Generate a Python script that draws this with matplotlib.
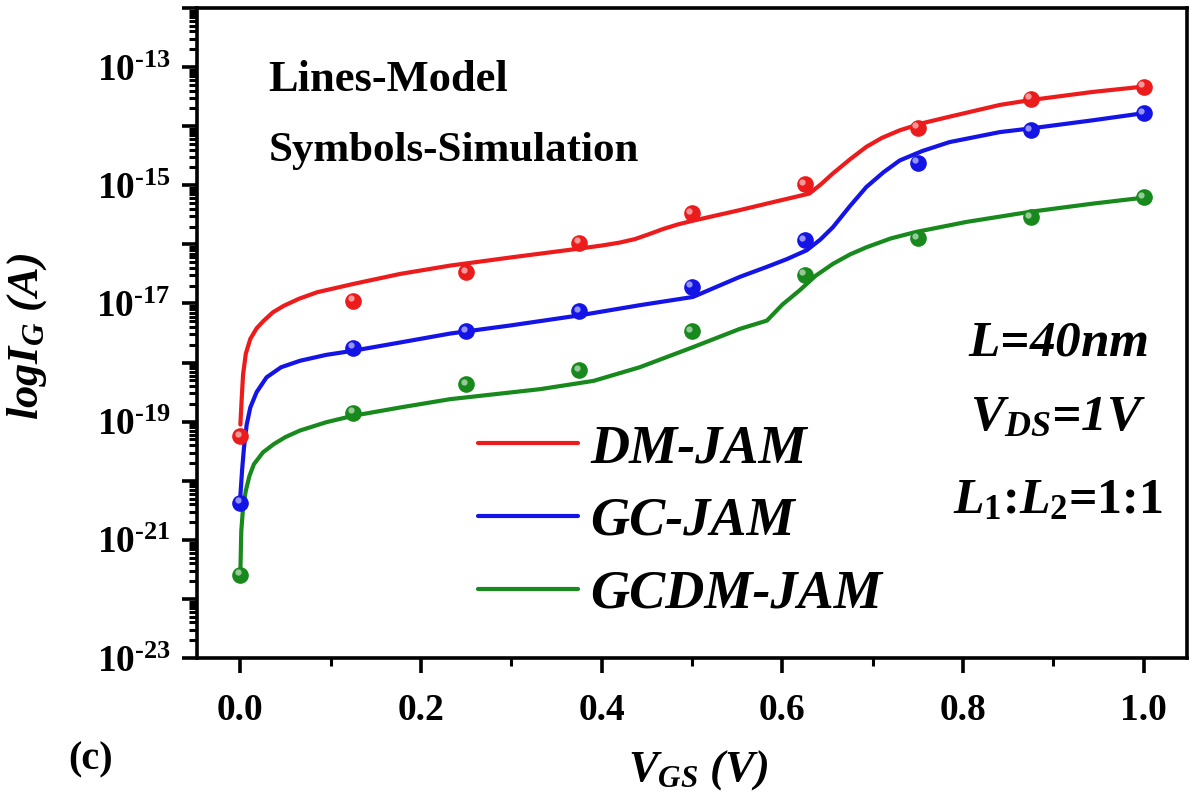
import numpy as np
import matplotlib
matplotlib.use('Agg')
import matplotlib.pyplot as plt
from matplotlib import ticker, transforms

plt.rcParams['font.family'] = ['Liberation Serif', 'DejaVu Serif']
plt.rcParams['font.weight'] = 'bold'
plt.rcParams['mathtext.fontset'] = 'custom'
plt.rcParams['mathtext.rm'] = 'Liberation Serif:bold'
plt.rcParams['mathtext.bf'] = 'Liberation Serif:bold'
plt.rcParams['mathtext.it'] = 'Liberation Serif:bold:italic'

# Simulated gate current (log10 of A) at the sampled VGS points
vgs_sim = [0.0, 0.125, 0.25, 0.375, 0.5, 0.625, 0.75, 0.875, 1.0]
dm_sim = [-19.25, -16.95, -16.47, -15.97, -15.47, -14.98, -14.03, -13.54, -13.33]
gc_sim = [-20.37, -17.75, -17.47, -17.13, -16.72, -15.93, -14.62, -14.07, -13.78]
gcdm_sim = [-21.59, -18.85, -18.37, -18.13, -17.47, -16.51, -15.90, -15.54, -15.20]

# Model curves (log10 of A)
vgs_dm = [0.0, 0.0015, 0.003, 0.006, 0.011, 0.018, 0.026, 0.036, 0.048, 0.065, 0.085,
          0.125, 0.177, 0.232, 0.30, 0.376, 0.40, 0.42, 0.437, 0.452, 0.468, 0.485, 0.501,
          0.553, 0.583, 0.630, 0.643, 0.656, 0.675, 0.693, 0.71, 0.730, 0.755, 0.785,
          0.841, 0.874, 0.944, 1.0]
dm_model = [-19.05, -18.60, -18.20, -17.85, -17.60, -17.42, -17.29, -17.15, -17.04, -16.92,
            -16.81, -16.67, -16.50, -16.36, -16.22, -16.07, -16.02, -15.97, -15.91, -15.83,
            -15.74, -15.66, -15.60, -15.42, -15.31, -15.14, -14.98, -14.80, -14.56, -14.35,
            -14.20, -14.07, -13.95, -13.84, -13.64, -13.56, -13.42, -13.33]

vgs_gc = [0.0, 0.002, 0.004, 0.007, 0.011, 0.018, 0.029, 0.045, 0.066, 0.095, 0.125,
          0.177, 0.232, 0.30, 0.376, 0.442, 0.501, 0.553, 0.583, 0.605, 0.627, 0.642,
          0.656, 0.675, 0.693, 0.712, 0.730, 0.755, 0.785, 0.841, 0.874, 0.944, 1.0]
gc_model = [-20.25, -19.80, -19.44, -19.05, -18.76, -18.50, -18.25, -18.08, -17.97, -17.87,
            -17.80, -17.66, -17.51, -17.37, -17.20, -17.03, -16.89, -16.55, -16.38, -16.25,
            -16.10, -15.92, -15.71, -15.35, -15.03, -14.78, -14.58, -14.42, -14.27, -14.10,
            -14.04, -13.90, -13.78]

vgs_gcdm = [0.0, 0.001, 0.003, 0.006, 0.010, 0.015, 0.025, 0.037, 0.05, 0.066, 0.095,
            0.125, 0.177, 0.232, 0.332, 0.391, 0.442, 0.501, 0.553, 0.583, 0.600, 0.619,
            0.637, 0.656, 0.675, 0.693, 0.72, 0.748, 0.804, 0.874, 0.944, 1.0]
gcdm_model = [-21.55, -20.85, -20.45, -20.17, -19.92, -19.72, -19.52, -19.38, -19.26, -19.15,
              -19.01, -18.90, -18.76, -18.62, -18.45, -18.31, -18.08, -17.74, -17.43, -17.29,
              -17.02, -16.78, -16.53, -16.33, -16.17, -16.05, -15.90, -15.79, -15.62, -15.45,
              -15.31, -15.21]

names = ['DM-JAM', 'GC-JAM', 'GCDM-JAM']
colors = ['#ec1c1c', '#1414e6', '#18891c']

fig = plt.figure(figsize=(11.89, 7.98), dpi=100)
ax = fig.add_axes([0.1657, 0.1754, 0.8326, 0.8146])

models = [(vgs_dm, dm_model), (vgs_gc, gc_model), (vgs_gcdm, gcdm_model)]
sims = [dm_sim, gc_sim, gcdm_sim]

# small light spot on each symbol so they look like shaded balls
shine = transforms.offset_copy(ax.transData, fig=fig, x=-1.8, y=1.8, units='points')

handles = []
for (xm, ym), ys, c, name in zip(models, sims, colors, names):
    ln, = ax.plot(xm, 10.0 ** np.array(ym), color=c, lw=3.0, label=name,
                  solid_capstyle='round', solid_joinstyle='round', zorder=2)
    handles.append(ln)
    ax.plot(vgs_sim, 10.0 ** np.array(ys), 'o', ms=12, color=c, mec='none', zorder=3)
    ax.plot(vgs_sim, 10.0 ** np.array(ys), 'o', ms=4.5, color='white', alpha=0.55,
            mec='none', zorder=4, transform=shine)

ax.set_yscale('log')
ax.set_ylim(1e-23, 1e-12)
ax.set_xlim(-0.048, 1.048)


def decade_label(v, pos):
    k = int(round(np.log10(v)))
    if k % 2 == 0:
        return ''
    return r'$10^{\text{-}%d}$' % abs(k)


ax.yaxis.set_major_locator(ticker.FixedLocator([10.0 ** k for k in range(-23, -11)]))
ax.yaxis.set_major_formatter(ticker.FuncFormatter(decade_label))
ax.yaxis.set_minor_locator(ticker.LogLocator(base=10, subs=np.arange(2, 10), numticks=50))
ax.yaxis.set_minor_formatter(ticker.NullFormatter())

ax.xaxis.set_major_locator(ticker.MultipleLocator(0.2))
ax.xaxis.set_minor_locator(ticker.MultipleLocator(0.1))
ax.xaxis.set_major_formatter(ticker.FormatStrFormatter('%.1f'))

ax.tick_params(which='major', direction='out', length=11, width=2.6, labelsize=27)
ax.tick_params(which='minor', direction='out', length=6, width=2.2)
ax.tick_params(axis='x', which='major', pad=14)
ax.tick_params(axis='y', which='major', pad=8)
for s in ax.spines.values():
    s.set_linewidth(2.6)

ax.set_xlabel(r'$V_{GS}$ (V)', fontsize=32, fontstyle='italic', fontweight='bold')
ax.xaxis.set_label_coords(0.506, -0.139)
ax.set_ylabel(r'log$I_{G}$ (A)', fontsize=32, fontstyle='italic', fontweight='bold')
ax.yaxis.set_label_coords(-0.150, 0.495)

ax.text(0.072, 0.872, 'Lines-Model', transform=ax.transAxes, fontsize=32)
ax.text(0.072, 0.765, 'Symbols-Simulation', transform=ax.transAxes, fontsize=31)

ax.text(0.870, 0.466, r'$L$=40nm', transform=ax.transAxes, fontsize=37,
        fontstyle='italic', ha='center')
ax.text(0.870, 0.351, r'$V_{DS}$=1V', transform=ax.transAxes, fontsize=37,
        fontstyle='italic', ha='center')
ax.text(0.870, 0.223, r'$L_{\mathit{1}}$:$L_{\mathit{2}}$=1:1', transform=ax.transAxes,
        fontsize=36, ha='center')

ax.legend(handles=handles, loc='upper left', bbox_to_anchor=(0.284, 0.36),
          frameon=False, borderpad=0, borderaxespad=0, handlelength=1.85,
          handletextpad=0.22, labelspacing=0.42,
          prop={'family': 'Liberation Serif', 'weight': 'bold', 'style': 'italic', 'size': 39})

fig.text(0.057, 0.048, '(c)', fontsize=29, va='center')

fig.savefig('out.png', dpi=100)
